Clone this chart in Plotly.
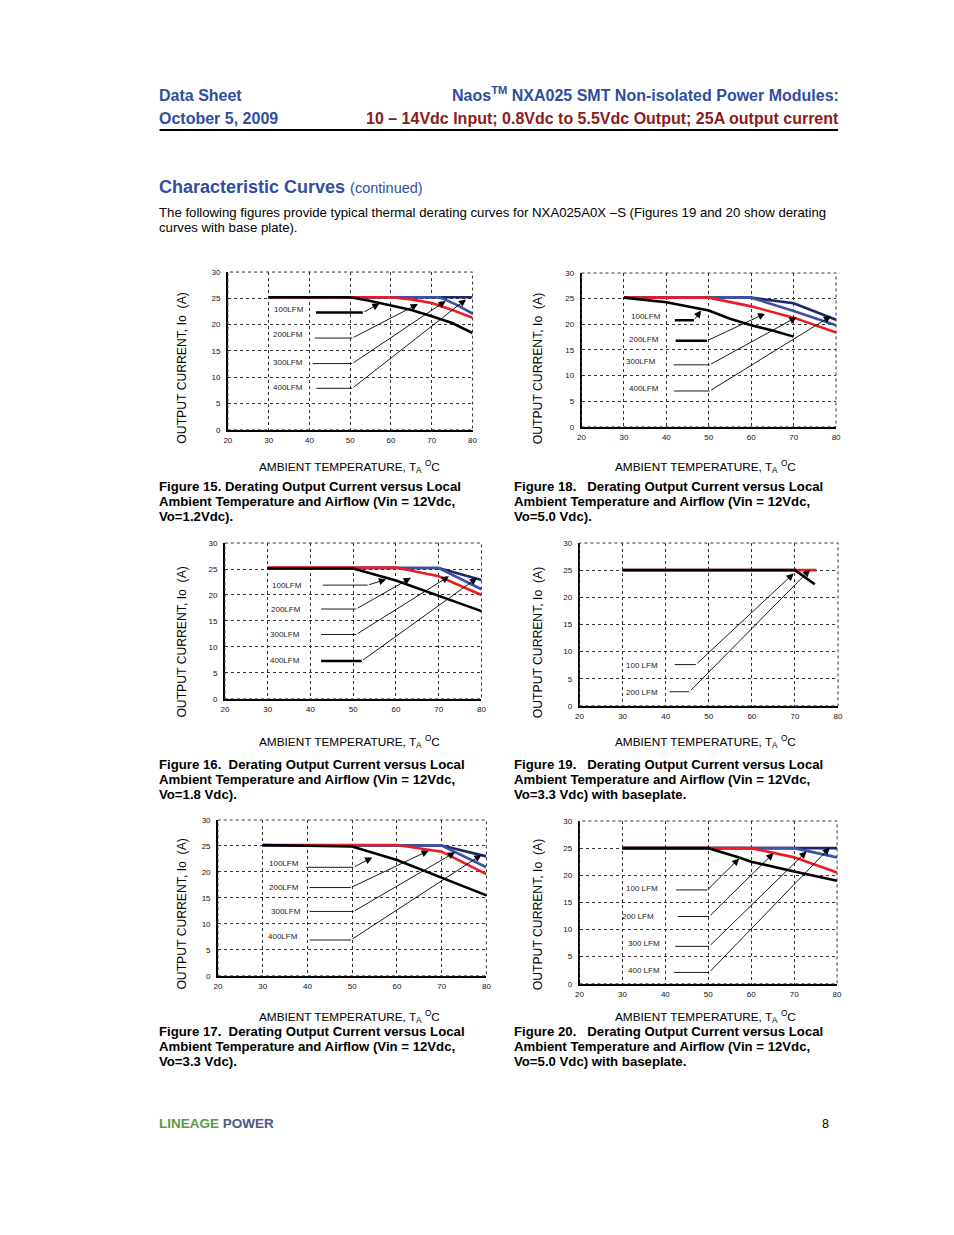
import plotly.graph_objects as go

W, H = 954, 1235
RED = '#ec1c24'
BLUE = '#3d50a8'
NAVY = '#1f2867'
BLACK = '#000000'
HEAD_BLUE = '#2f4e9f'
HEAD_RED = '#8a1c1c'
FONT = 'Liberation Sans, Arial, sans-serif'

# ---------------- data ----------------
# Figure 15 (Vo=1.2Vdc)
f15_t_100 = [30, 50, 55, 60, 65, 70, 75, 80]
f15_i_100 = [25.2, 25.2, 24.5, 23.6, 22.8, 21.6, 20.3, 18.4]
f15_t_200 = [30, 60, 65, 70, 75, 80]
f15_i_200 = [25.2, 25.2, 24.8, 24.1, 22.8, 21.3]
f15_t_300 = [30, 72, 76, 80]
f15_i_300 = [25.2, 25.2, 23.8, 22.1]
f15_t_400 = [30, 80]
f15_i_400 = [25.2, 25.2]

# Figure 18 (Vo=5.0Vdc)
f18_t_100 = [30, 40, 50, 55, 60, 65, 70]
f18_i_100 = [25.2, 24.3, 22.7, 21.1, 19.8, 18.8, 17.6]
f18_t_200 = [30, 50, 60, 70, 80]
f18_i_200 = [25.2, 25.2, 23.5, 21.3, 18.4]
f18_t_300 = [30, 60, 70, 80]
f18_i_300 = [25.2, 25.2, 22.6, 19.8]
f18_t_400 = [30, 60, 70, 80]
f18_i_400 = [25.2, 25.2, 24.1, 20.9]

# Figure 16 (Vo=1.8Vdc)
f16_t_100 = [30, 50, 60, 70, 80]
f16_i_100 = [25.1, 25.1, 22.8, 19.9, 16.9]
f16_t_200 = [30, 60, 70, 80]
f16_i_200 = [25.3, 25.3, 23.6, 20.0]
f16_t_300 = [30, 70, 80]
f16_i_300 = [25.2, 25.2, 21.1]
f16_t_400 = [30, 70, 80]
f16_i_400 = [25.2, 25.2, 22.9]

# Figure 19 (Vo=3.3Vdc, baseplate)
f19_t_100 = [30, 70, 74.6]
f19_i_100 = [25.0, 25.0, 22.4]
f19_t_200 = [30, 75]
f19_i_200 = [25.0, 25.0]

# Figure 17 (Vo=3.3Vdc)
f17_t_100 = [30, 40, 50, 60, 70, 80]
f17_i_100 = [25.2, 25.1, 24.9, 22.3, 18.9, 15.5]
f17_t_200 = [30, 60, 70, 80]
f17_i_200 = [25.2, 25.2, 23.9, 19.6]
f17_t_300 = [30, 70, 80]
f17_i_300 = [25.1, 25.1, 20.9]
f17_t_400 = [30, 70, 80]
f17_i_400 = [25.1, 25.1, 23.0]

# Figure 20 (Vo=5.0Vdc, baseplate)
f20_t_100 = [30, 50, 57, 60, 70, 80]
f20_i_100 = [25.0, 25.0, 23.3, 22.5, 20.7, 19.0]
f20_t_200 = [30, 60, 70, 80]
f20_i_200 = [25.0, 25.0, 23.3, 20.5]
f20_t_300 = [30, 70, 80]
f20_i_300 = [25.0, 25.0, 23.3]
f20_t_400 = [30, 80]
f20_i_400 = [25.0, 25.0]

x_ticks = [20, 30, 40, 50, 60, 70, 80]
y_ticks = [0, 5, 10, 15, 20, 25, 30]

# ---------------- layout config ----------------
# chart boxes in page pixels: left, right, top, bottom
boxes = {
    1: (226, 473, 270, 429),
    2: (583, 840, 271, 426),
    3: (223, 482, 543, 700),
    4: (581, 842, 543, 707),
    5: (216, 487, 822, 979),
    6: (581, 841, 823, 987),
}

series = {
    1: [(f15_t_400, f15_i_400, NAVY), (f15_t_300, f15_i_300, BLUE),
        (f15_t_200, f15_i_200, RED), (f15_t_100, f15_i_100, BLACK)],
    2: [(f18_t_400, f18_i_400, NAVY), (f18_t_300, f18_i_300, BLUE),
        (f18_t_200, f18_i_200, RED), (f18_t_100, f18_i_100, BLACK)],
    3: [(f16_t_400, f16_i_400, NAVY), (f16_t_300, f16_i_300, BLUE),
        (f16_t_200, f16_i_200, RED), (f16_t_100, f16_i_100, BLACK)],
    4: [(f19_t_200, f19_i_200, RED), (f19_t_100, f19_i_100, BLACK)],
    5: [(f17_t_400, f17_i_400, NAVY), (f17_t_300, f17_i_300, BLUE),
        (f17_t_200, f17_i_200, RED), (f17_t_100, f17_i_100, BLACK)],
    6: [(f20_t_400, f20_i_400, NAVY), (f20_t_300, f20_i_300, BLUE),
        (f20_t_200, f20_i_200, RED), (f20_t_100, f20_i_100, BLACK)],
}

# leader callouts: label, text x, text y, line x0, line x1, line y, tip x, tip y, thick
leaders = {
    1: [("100LFM", 35.0, 22.8, 41.6, 53.1, 22.3, 57.2, 24.0, True),
        ("200LFM", 34.7, 18.1, 41.3, 50.5, 17.45, 66.6, 23.9, False),
        ("300LFM", 34.7, 12.9, 40.8, 50.5, 12.6, 73.4, 24.5, False),
        ("400LFM", 34.7, 8.0, 41.7, 50.5, 7.9, 78.4, 24.8, False)],
    2: [("100LFM", 35.2, 21.6, 42.0, 46.5, 20.8, 48.2, 22.7, True),
        ("200LFM", 34.8, 17.1, 42.2, 49.6, 16.8, 63.3, 22.1, True),
        ("300LFM", 34.0, 12.7, 41.7, 50.2, 12.1, 70.7, 21.4, False),
        ("400LFM", 34.8, 7.4, 41.8, 50.2, 7.0, 78.8, 21.6, False)],
    3: [("100LFM", 34.6, 21.9, 42.9, 53.4, 21.9, 57.7, 23.0, False),
        ("200LFM", 34.4, 17.3, 42.5, 50.7, 17.3, 63.5, 23.3, False),
        ("300LFM", 34.0, 12.4, 42.5, 50.7, 12.4, 72.4, 23.6, False),
        ("400LFM", 34.0, 7.4, 42.5, 52.0, 7.3, 79.0, 23.3, True)],
    4: [("100 LFM", 34.4, 7.4, 42.1, 47.0, 7.6, 69.7, 24.4, False),
        ("200 LFM", 34.4, 2.4, 40.9, 45.5, 2.6, 73.5, 25.1, False)],
    5: [("100LFM", 34.8, 21.6, 39.7, 50.3, 20.9, 54.5, 22.8, False),
        ("200LFM", 34.8, 17.1, 40.5, 49.7, 17.0, 67.1, 24.1, False),
        ("300LFM", 35.1, 12.4, 40.5, 50.3, 12.4, 73.0, 23.8, False),
        ("400LFM", 34.6, 7.6, 40.5, 49.7, 6.9, 78.9, 23.3, False)],
    6: [("100 LFM", 34.5, 17.5, 42.5, 49.8, 17.3, 57.2, 23.1, False),
        ("200 LFM", 33.7, 12.4, 42.9, 50.2, 12.4, 65.2, 24.1, False),
        ("300 LFM", 35.1, 7.4, 42.3, 50.2, 6.9, 72.9, 24.4, False),
        ("400 LFM", 35.1, 2.4, 42.0, 50.2, 2.1, 78.3, 25.1, False)],
}


def px(x, y):
    return x / W, 1 - y / H


fig = go.Figure()
annotations = []
shapes = []
layout_axes = {}

for i, (l, r, t, b) in boxes.items():
    xs = '' if i == 1 else str(i)
    xa = 'x' + xs
    ya = 'y' + xs
    for tx, ti, col in series[i]:
        fig.add_trace(go.Scatter(x=tx, y=ti, mode='lines', xaxis=xa, yaxis=ya,
                                 line=dict(color=col, width=2.6), showlegend=False,
                                 hoverinfo='skip'))
    for lab, lx, ly, x0, x1, yl, tipx, tipy, thick in leaders[i]:
        fig.add_trace(go.Scatter(x=[x0, x1], y=[yl, yl], mode='lines', xaxis=xa, yaxis=ya,
                                 line=dict(color=BLACK, width=2.4 if thick else 0.9),
                                 showlegend=False, hoverinfo='skip'))
        annotations.append(dict(x=tipx, y=tipy, ax=x1, ay=yl, xref=xa, yref=ya,
                                axref=xa, ayref=ya, text='', showarrow=True,
                                arrowhead=2, arrowsize=1.6, arrowwidth=0.9,
                                arrowcolor=BLACK, standoff=0, startstandoff=0))
        annotations.append(dict(x=lx, y=ly, xref=xa, yref=ya, text=lab, showarrow=False,
                                font=dict(family=FONT, size=8, color='#222'),
                                xanchor='center', yanchor='middle'))
    x0d, y1d = px(l, t)
    x1d, y0d = px(r, b)
    axis_common = dict(showgrid=True, gridcolor='#333333', griddash='dot', gridwidth=1,
                       showline=True, linecolor=BLACK, linewidth=1.6, mirror=False,
                       zeroline=False, ticks='', tickfont=dict(family=FONT, size=8, color='#111'),
                       fixedrange=True)
    layout_axes['xaxis' + xs] = dict(domain=[x0d, x1d], anchor=ya, range=[20, 80],
                                     tickvals=x_ticks, ticklabelstandoff=2, **axis_common)
    layout_axes['yaxis' + xs] = dict(domain=[y0d, y1d], anchor=xa, range=[0, 30],
                                     tickvals=y_ticks, ticklabelstandoff=4, **axis_common)
    shapes.append(dict(type='rect', xref=xa + ' domain', yref=ya + ' domain',
                       x0=0, x1=1, y0=0, y1=1, line=dict(color='#333', width=1, dash='dot')))


def txt(x, y, text, size, color='#000', xanchor='left', yanchor='middle', angle=0):
    if xanchor == 'left':
        x -= 2
    elif xanchor == 'right':
        x += 2
    ax_, ay_ = px(x, y)
    annotations.append(dict(x=ax_, y=ay_, xref='paper', yref='paper', text=text,
                            showarrow=False, xanchor=xanchor, yanchor=yanchor,
                            textangle=angle, borderpad=0,
                            font=dict(family=FONT, size=size, color=color)))


# header
txt(157, 92, '<b>Data Sheet</b>', 16, HEAD_BLUE)
txt(157, 115, '<b>October 5, 2009</b>', 16, HEAD_BLUE)
txt(842, 91, '<b>Naos<sup>TM</sup> NXA025 SMT Non-isolated Power Modules:</b>', 16,
    HEAD_BLUE, xanchor='right')
txt(842, 115, '<b>10 \u2013 14Vdc Input; 0.8Vdc to 5.5Vdc Output; 25A output current</b>', 16,
    HEAD_RED, xanchor='right')
sx0, sy = px(157, 127)
sx1, _ = px(842, 127)
shapes.append(dict(type='line', xref='paper', yref='paper', x0=sx0, x1=sx1, y0=sy, y1=sy,
                   line=dict(color=BLACK, width=2)))

txt(157, 184, "<b>Characteristic Curves</b> <span style='font-size:14.5px'>(continued)</span>",
    18, HEAD_BLUE)
txt(157, 210, 'The following figures provide typical thermal derating curves for NXA025A0X \u2013S '
    '(Figures 19 and 20 show derating', 13.2)
txt(157, 225, 'curves with base plate).', 13.2)

# axis titles
xt = 'AMBIENT TEMPERATURE, T<sub>A</sub> <sup>O</sup>C'
for cx, cy in [(349, 466), (708, 466), (349, 743), (708, 743), (349, 1020), (708, 1020)]:
    txt(cx, cy, xt, 11.8, xanchor='center')
yt = 'OUTPUT CURRENT, Io  (A)'
for cx, cy in [(180, 367), (539, 367), (180, 643), (539, 643), (180, 917), (539, 917)]:
    txt(cx, cy, yt, 12.2, xanchor='center', angle=-90)

# captions
captions = [
    (157, 486, ['Figure 15. Derating Output Current versus Local',
                'Ambient Temperature and Airflow (Vin = 12Vdc,', 'Vo=1.2Vdc).']),
    (516, 486, ['Figure 18.   Derating Output Current versus Local',
                'Ambient Temperature and Airflow (Vin = 12Vdc,', 'Vo=5.0 Vdc).']),
    (157, 766, ['Figure 16.  Derating Output Current versus Local',
                'Ambient Temperature and Airflow (Vin = 12Vdc,', 'Vo=1.8 Vdc).']),
    (516, 766, ['Figure 19.   Derating Output Current versus Local',
                'Ambient Temperature and Airflow (Vin = 12Vdc,', 'Vo=3.3 Vdc) with baseplate.']),
    (157, 1035, ['Figure 17.  Derating Output Current versus Local',
                 'Ambient Temperature and Airflow (Vin = 12Vdc,', 'Vo=3.3 Vdc).']),
    (516, 1035, ['Figure 20.   Derating Output Current versus Local',
                 'Ambient Temperature and Airflow (Vin = 12Vdc,', 'Vo=5.0 Vdc) with baseplate.']),
]
for cx, cy, lines in captions:
    for k, line in enumerate(lines):
        txt(cx, cy + 15 * k, '<b>' + line.replace('  ', '\u00a0 ') + '</b>', 13.2)

# footer
txt(157, 1128, "<b><span style='color:#5a9a3c'>LINEAGE</span> POWER</b>", 13.5, '#4b5b82')
txt(832, 1128, '8', 12.5, xanchor='right')

fig.update_layout(width=W, height=H, autosize=False, margin=dict(l=0, r=0, t=0, b=0),
                  paper_bgcolor='white', plot_bgcolor='white', showlegend=False,
                  annotations=annotations, shapes=shapes, **layout_axes)

fig.write_html('out.html', config={'displayModeBar': False},
               post_script="document.body.style.margin='0';"
                           "document.body.style.overflow='hidden';"
                           "document.documentElement.style.overflow='hidden';")
